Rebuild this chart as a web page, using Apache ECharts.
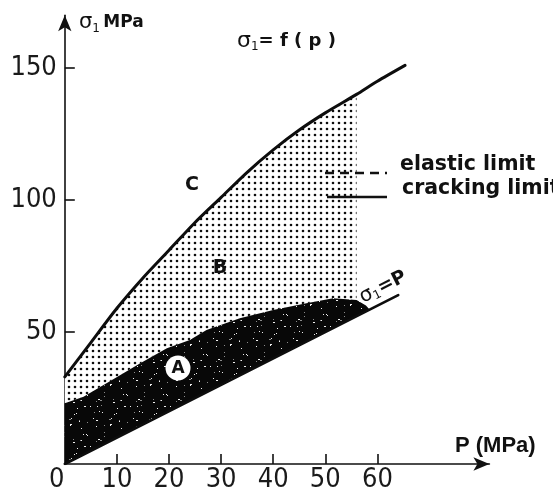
<!DOCTYPE html>
<html>
<head>
<meta charset="utf-8">
<script src="https://cdn.jsdelivr.net/npm/echarts@6/dist/echarts.min.js"></script>
<style>
html,body{margin:0;padding:0;background:#fff;}
#chart{width:553px;height:493px;}
</style>
</head>
<body>
<div id="chart"></div>
<script>
// ---- data ----
const P_LABELS = [0, 10, 20, 30, 40, 50, 60];
const P_TICKS = [10, 20, 30, 40, 50, 60];
const SIGMA_LABELS = [50, 100, 150];
// cracking limit  sigma1 = f(p)  (solid curve C)
const crackingLimit = [[0,33],[5,46],[10,59],[15,70.5],[20,81],[25,91.5],[30,101],[35,110.5],[40,119],[45,126.5],[50,133],[56,140],[60,145],[65.3,151]];
// elastic limit (upper edge of region A)
const elasticLimit = [[0,23],[3.6,25.5],[8,30.6],[14.4,38.1],[19.6,43.8],[24,47],[27.2,50.8],[33.6,55.2],[40,58.3],[46.4,60.9],[51.5,62.8],[56,62.1],[57.8,60],[58.5,58.5]];
// sigma1 = P line
const sigmaEqualsP = [[0,0],[64,64]];
const DOTTED_LIMIT_P = 56;

// ---- regions built from the arrays ----
const regionB = crackingLimit.filter(p => p[0] <= DOTTED_LIMIT_P)
  .concat(elasticLimit.filter(p => p[0] <= DOTTED_LIMIT_P).slice().reverse());
const regionA = elasticLimit.concat([sigmaEqualsP[0]]);

// ---- textures ----
function dotPattern() {
  const c = document.createElement('canvas');
  c.width = 6; c.height = 6;
  const g = c.getContext('2d');
  g.fillStyle = '#fff'; g.fillRect(0,0,6,6);
  g.fillStyle = '#0d0d0d';
  g.beginPath(); g.arc(3,3,1.3,0,Math.PI*2); g.fill();
  return c;
}
function speckPattern() {
  const n = 40;
  const c = document.createElement('canvas');
  c.width = n; c.height = n;
  const g = c.getContext('2d');
  g.fillStyle = '#080808'; g.fillRect(0,0,n,n);
  for (let i = 0; i < 34; i++) {
    const x = (i * 29 + (i * i) % 13) % n;
    const y = (i * 17 + 7 * (i % 5) + (i * i) % 11) % n;
    g.fillStyle = i % 3 === 0 ? '#8a8a8a' : '#eeeeee';
    const w = 1 + (i % 4 === 0 ? 1 : 0), h = 1;
    g.fillRect(x, y, w, h);
  }
  return c;
}

function polygonSeries(name, pts, fill, z) {
  return {
    type: 'custom', name: name, z: z, silent: true, clip: true,
    data: pts,
    renderItem: function (params, api) {
      if (params.dataIndex !== 0) return;
      return {
        type: 'polygon',
        shape: { points: pts.map(p => api.coord(p)) },
        style: { fill: fill, stroke: null }
      };
    }
  };
}

const TICK_FONT = "'Liberation Sans Narrow', 'DejaVu Sans Condensed', 'Liberation Sans', sans-serif";
const BOLD_FONT = "'DejaVu Sans', sans-serif";

const chart = echarts.init(document.getElementById('chart'), null, { renderer: 'canvas' });

const option = {
  animation: false,
  backgroundColor: '#fff',
  grid: { left: 64.8, top: 15.2, width: 424.6, height: 448.8 },
  xAxis: {
    type: 'value', min: 0, max: 81.5,
    splitLine: { show: false },
    axisLine: { show: true, onZero: false, symbol: ['none', 'arrow'], symbolSize: [10, 16],
      lineStyle: { color: '#111', width: 1.6 } },
    axisTick: { show: true, inside: true, length: 10, customValues: P_TICKS,
      lineStyle: { color: '#111', width: 1.6 } },
    axisLabel: { show: true, customValues: P_LABELS, margin: 2, color: '#1a1a1a',
      fontFamily: TICK_FONT, fontSize: 27,
      formatter: v => v === 0 ? '{z|0}' : String(v),
      rich: { z: { fontFamily: TICK_FONT, fontSize: 27, color: '#1a1a1a', padding: [0, 16, 0, 0] } } }
  },
  yAxis: {
    type: 'value', min: 0, max: 170,
    splitLine: { show: false },
    axisLine: { show: true, onZero: false, symbol: ['none', 'arrow'], symbolSize: [10, 16],
      lineStyle: { color: '#111', width: 1.6 } },
    axisTick: { show: true, inside: true, length: 10, customValues: SIGMA_LABELS,
      lineStyle: { color: '#111', width: 1.6 } },
    axisLabel: { show: true, customValues: SIGMA_LABELS, margin: 8, color: '#1a1a1a',
      fontFamily: TICK_FONT, fontSize: 27 }
  },
  series: [
    polygonSeries('B', regionB, { image: dotPattern(), repeat: 'repeat' }, 1),
    polygonSeries('A', regionA, { image: speckPattern(), repeat: 'repeat' }, 2),
    {
      type: 'line', name: 'cracking limit', data: crackingLimit, z: 4,
      symbol: 'none', smooth: 0.25, silent: true,
      lineStyle: { color: '#0d0d0d', width: 3, cap: 'round' }
    },
    {
      type: 'line', name: 'σ1=P', data: sigmaEqualsP, z: 4,
      symbol: 'none', silent: true,
      lineStyle: { color: '#0d0d0d', width: 2.6, cap: 'round' }
    }
  ],
  graphic: [
    { type: 'text', x: 79, y: 23, z: 10, style: {
      text: '{s|σ}{sub|1} {b|MPa}', verticalAlign: 'middle', align: 'left',
      rich: {
        s: { fontFamily: BOLD_FONT, fontSize: 21, fill: '#111' },
        sub: { fontFamily: BOLD_FONT, fontSize: 12, fill: '#111', verticalAlign: 'bottom', padding: [12, 0, 0, 0] },
        b: { fontFamily: BOLD_FONT, fontWeight: 'bold', fontSize: 17, fill: '#111' }
      } } },
    { type: 'text', x: 237, y: 41, z: 10, style: {
      text: '{s|σ}{sub|1}{b|= f ( p )}', verticalAlign: 'middle', align: 'left',
      rich: {
        s: { fontFamily: BOLD_FONT, fontSize: 22, fill: '#111' },
        sub: { fontFamily: BOLD_FONT, fontSize: 12, fill: '#111', verticalAlign: 'bottom', padding: [12, 0, 0, 0] },
        b: { fontFamily: BOLD_FONT, fontWeight: 'bold', fontSize: 18, fill: '#111' }
      } } },
    { type: 'text', x: 192, y: 185, z: 10, style: { text: 'C', align: 'center', verticalAlign: 'middle',
      fontFamily: BOLD_FONT, fontWeight: 'bold', fontSize: 19, fill: '#111' } },
    { type: 'text', x: 220, y: 268, z: 10, style: { text: 'B', align: 'center', verticalAlign: 'middle',
      fontFamily: BOLD_FONT, fontWeight: 'bold', fontSize: 19, fill: '#111' } },
    { type: 'circle', shape: { cx: 178, cy: 368, r: 12.5 }, z: 10, style: { fill: '#fff' } },
    { type: 'text', x: 178, y: 369, z: 11, style: { text: 'A', align: 'center', verticalAlign: 'middle',
      fontFamily: BOLD_FONT, fontWeight: 'bold', fontSize: 17, fill: '#111' } },
    { type: 'line', z: 10, shape: { x1: 325, y1: 173, x2: 387, y2: 173 },
      style: { stroke: '#111', lineWidth: 2.6, lineDash: [9, 6] } },
    { type: 'line', z: 10, shape: { x1: 327, y1: 197, x2: 387, y2: 197 },
      style: { stroke: '#111', lineWidth: 2.6 } },
    { type: 'text', x: 400, y: 165, z: 10, style: { text: 'elastic limit', align: 'left', verticalAlign: 'middle',
      fontFamily: BOLD_FONT, fontWeight: 'bold', fontSize: 20.5, fill: '#111' } },
    { type: 'text', x: 402, y: 189, z: 10, style: { text: 'cracking limit', align: 'left', verticalAlign: 'middle',
      fontFamily: BOLD_FONT, fontWeight: 'bold', fontSize: 20.5, fill: '#111' } },
    { type: 'text', x: 383, y: 287, z: 10, rotation: 0.466, style: {
      text: '{s|σ}{sub|1}{b|=P}', align: 'center', verticalAlign: 'middle',
      rich: {
        s: { fontFamily: BOLD_FONT, fontSize: 20, fill: '#111' },
        sub: { fontFamily: BOLD_FONT, fontSize: 12, fill: '#111', verticalAlign: 'bottom', padding: [10, 0, 0, 0] },
        b: { fontFamily: BOLD_FONT, fontWeight: 'bold', fontSize: 19, fill: '#111' }
      } } },
    { type: 'text', x: 455, y: 446, z: 10, style: { text: 'P (MPa)', align: 'left', verticalAlign: 'middle',
      fontFamily: "'Liberation Sans', sans-serif", fontWeight: 'bold', fontSize: 22, fill: '#111' } }
  ]
};
chart.setOption(option);
</script>
</body>
</html>
